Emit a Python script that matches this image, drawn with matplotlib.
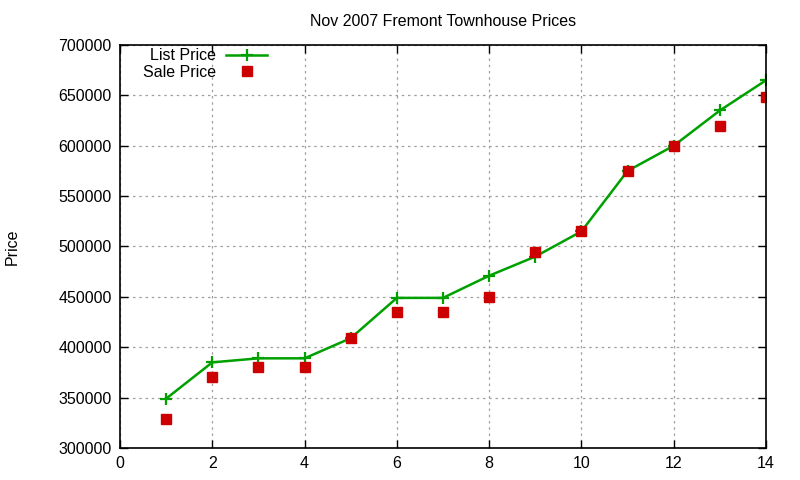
import matplotlib
matplotlib.use("Agg")
import matplotlib.pyplot as plt

x = list(range(1, 15))
list_price = [349000, 385000, 389000, 389000, 409000, 449000, 449000, 471000,
              490000, 515000, 575000, 600000, 635000, 665000]
sale_price = [329000, 370000, 380000, 380000, 409000, 435000, 435000, 450000,
              495000, 515000, 575000, 600000, 620000, 648000]

plt.rcParams['font.family'] = ['Liberation Sans', 'DejaVu Sans']
fig = plt.figure(figsize=(8, 4.8), dpi=100)
ax = fig.add_axes([120/800, 1-448/480, (766-120)/800, (448-45)/480])

ax.plot(x, list_price, color='#00a000', lw=1.8, marker='+', ms=9, mew=1.6,
        label='List Price')
ax.plot(x, sale_price, ls='none', marker='s', color='#cc0000', ms=6.5,
        label='Sale Price')

ax.set_xlim(0, 14)
ax.set_ylim(300000, 700000)
ax.set_xticks(range(0, 15, 2))
ax.set_yticks(range(300000, 700001, 50000))
ax.grid(True, color='#a0a0a0', ls=(0, (2, 3)), lw=0.9)
ax.tick_params(direction='in', top=True, right=True, labelsize=11.5, length=6,
               width=1, pad=6)
for s in ax.spines.values():
    s.set_linewidth(1.2)
ax.set_title('Nov 2007 Fremont Townhouse Prices', fontsize=11.5, pad=14)
fig.text(12/800, 1-247/480, 'Price', rotation=90, fontsize=11.5,
         ha='center', va='center')

leg = ax.legend(loc='upper left', bbox_to_anchor=(0.021, 1.016), markerfirst=False,
                frameon=False, fontsize=11.5, handlelength=2.6, handletextpad=0.6,
                labelspacing=0.1, borderaxespad=0.2)
for t in leg.get_texts():
    t.set_ha('right')

fig.savefig('out.png', dpi=100)
